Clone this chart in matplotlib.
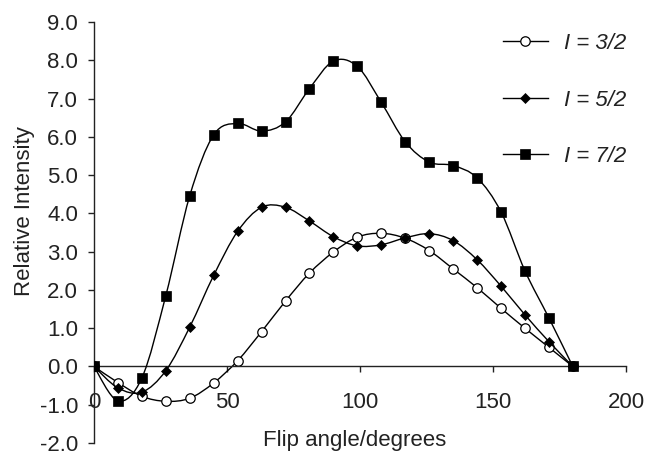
import numpy as np
import matplotlib
matplotlib.use("Agg")
import matplotlib.pyplot as plt
from matplotlib.path import Path
from matplotlib.patches import PathPatch
from matplotlib.lines import Line2D

plt.rcParams['font.family'] = ['Liberation Sans', 'DejaVu Sans']
plt.rcParams['axes.unicode_minus'] = False

flip_angle = [0, 9, 18, 27, 36, 45, 54, 63, 72, 81, 90, 99, 108, 117, 126, 135, 144, 153, 162, 171, 180]
i_3_2 = [0, -0.42, -0.78, -0.91, -0.83, -0.43, 0.15, 0.91, 1.71, 2.44, 2.99, 3.38, 3.48, 3.35, 3.03, 2.55, 2.06, 1.52, 1.00, 0.50, 0]
i_5_2 = [0, -0.56, -0.67, -0.11, 1.03, 2.38, 3.53, 4.16, 4.16, 3.80, 3.39, 3.15, 3.18, 3.36, 3.47, 3.29, 2.79, 2.10, 1.35, 0.65, 0]
i_7_2 = [0, -0.90, -0.30, 1.85, 4.46, 6.05, 6.35, 6.15, 6.39, 7.26, 7.98, 7.84, 6.90, 5.87, 5.34, 5.25, 4.93, 4.04, 2.50, 1.27, 0]
labels = ['I = 3/2', 'I = 5/2', 'I = 7/2']
x_ticks = [0, 50, 100, 150, 200]
y_ticks = [-2, -1, 0, 1, 2, 3, 4, 5, 6, 7, 8, 9]

def smooth_path(x, y):
    p = np.column_stack([x, y]).astype(float)
    n = len(p)
    verts = [p[0]]
    codes = [Path.MOVETO]
    for i in range(n - 1):
        p0 = p[i - 1] if i > 0 else p[i]
        p1 = p[i]
        p2 = p[i + 1]
        p3 = p[i + 2] if i + 2 < n else p[i + 1]
        c1 = p1 + (p2 - p0) / 6.0
        c2 = p2 - (p3 - p1) / 6.0
        verts += [c1, c2, p2]
        codes += [Path.CURVE4] * 3
    return Path(verts, codes)

FS = 16
fig = plt.figure(figsize=(6.49, 4.51), dpi=100)
ax = fig.add_axes([0.1448, 0.0177, 0.8198, 0.9335])

styles = [
    dict(marker='o', markersize=6.8, markerfacecolor='white', markeredgecolor='black', markeredgewidth=0.9),
    dict(marker='D', markersize=5.6, markerfacecolor='black', markeredgecolor='black', markeredgewidth=0.5),
    dict(marker='s', markersize=7.0, markerfacecolor='black', markeredgecolor='black', markeredgewidth=0.5),
]
handles = []
for k, (ys, st) in enumerate(zip([i_3_2, i_5_2, i_7_2], styles)):
    patch = PathPatch(smooth_path(flip_angle, ys), facecolor='none', edgecolor='black',
                      lw=1.0, transform=ax.transData, zorder=2 + k)
    ax.add_patch(patch)
    ax.plot(flip_angle, ys, ls='none', zorder=2.5 + k, **st)
    handles.append(Line2D([], [], color='black', lw=1.0, **st))

ax.set_xlim(0, 200)
ax.set_ylim(-2, 9)
ax.spines['top'].set_visible(False)
ax.spines['right'].set_visible(False)
ax.spines['bottom'].set_position(('data', 0))
for s in ['left', 'bottom']:
    ax.spines[s].set_linewidth(1.0)
    ax.spines[s].set_color('#222222')

ax.set_xticks(x_ticks)
ax.set_xticklabels([str(v) for v in x_ticks])
ax.set_yticks(y_ticks)
ax.set_yticklabels(['%.1f' % v for v in y_ticks])
ax.tick_params(axis='x', direction='out', length=4.5, width=1.0, pad=14, labelsize=FS, colors='#222222')
ax.tick_params(axis='y', direction='out', length=4.5, width=1.0, pad=7, labelsize=FS, colors='#222222')

ax.set_xlabel('Flip angle/degrees', fontsize=FS, color='#222222', va='center')
ax.xaxis.set_label_coords(0.49, 0.005)
ax.set_ylabel('Relative Intensity', fontsize=FS, color='#222222', va='center')
ax.yaxis.set_label_coords(-0.13, 0.55)

leg = ax.legend(handles, labels, loc='upper right', bbox_to_anchor=(1.0, 0.974), frameon=False,
                prop={'size': FS, 'style': 'italic'}, labelspacing=1.6, handlelength=2.03,
                handletextpad=0.72, borderaxespad=0.0, borderpad=0.0)
for t in leg.get_texts():
    t.set_color('#222222')

fig.savefig('out.png', dpi=100)
